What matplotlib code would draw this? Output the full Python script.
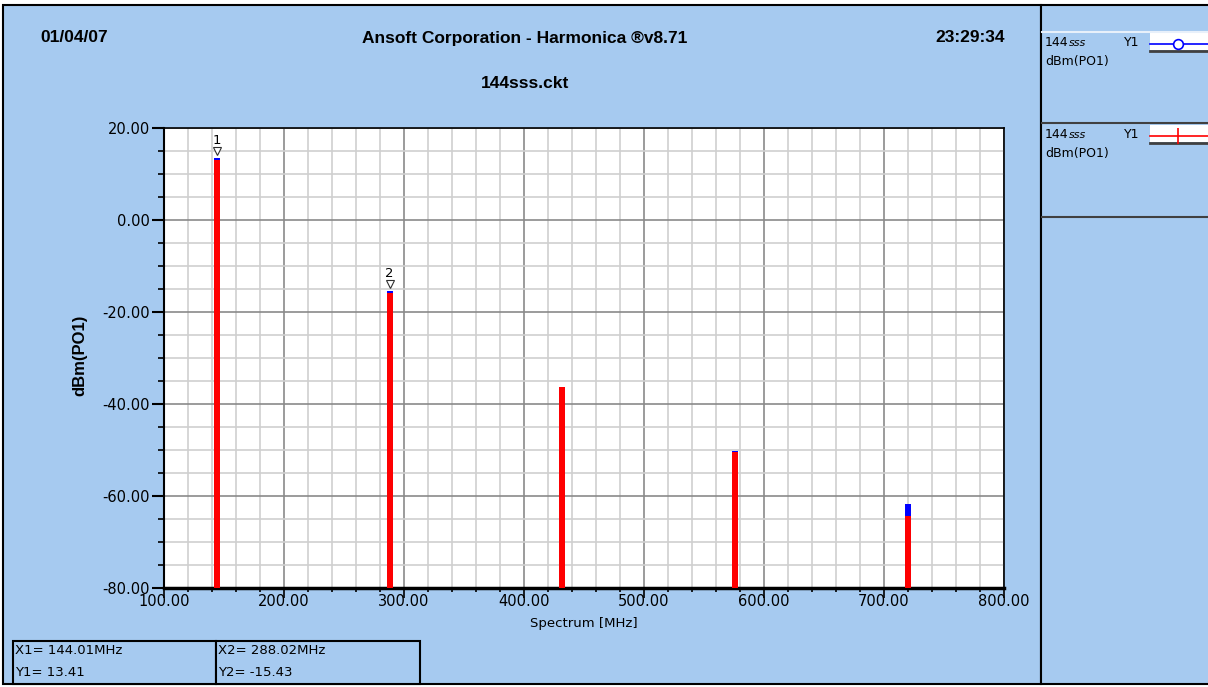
import matplotlib
matplotlib.use("Agg")
import matplotlib.pyplot as plt
from matplotlib.patches import Rectangle
from matplotlib.lines import Line2D

# ---- data ----
freq = [144.01, 288.02, 432.03, 576.04, 720.05]          # MHz
trace_blue = [13.41, -15.43, -36.2, -50.3, -61.7]          # dBm(PO1), Y1 (circle)
trace_red = [13.0, -15.9, -36.4, -50.5, -64.3]             # dBm(PO1), Y1 (cross)
markers = [("1", 144.01, 13.41), ("2", 288.02, -15.43)]
marker_text = [("X1= 144.01MHz", "Y1= 13.41"), ("X2= 288.02MHz", "Y2= -15.43")]
xticks = [100, 200, 300, 400, 500, 600, 700, 800]
yticks = [-80, -60, -40, -20, 0, 20]

# ---- styling ----
W, H = 1208, 687
bg = '#a6caf0'
sans = ['DejaVu Sans']
arial = ['Liberation Sans', 'DejaVu Sans']
plt.rcParams['font.family'] = sans

def fx(x):
    return x / W

def fy(y):
    return 1 - y / H

fig = plt.figure(figsize=(W / 100, H / 100), dpi=100)
fig.patch.set_facecolor('white')

def rect(x0, y0, x1, y1, fc=bg, ec='black', lw=1.5, z=-2):
    fig.patches.append(Rectangle((fx(x0), fy(y1)), fx(x1) - fx(x0), fy(y0) - fy(y1),
                                 transform=fig.transFigure, facecolor=fc, edgecolor=ec,
                                 linewidth=lw, zorder=z))

def hline(x0, x1, y, color='black', lw=1.0):
    fig.lines.append(Line2D([fx(x0), fx(x1)], [fy(y), fy(y)], transform=fig.transFigure,
                            color=color, linewidth=lw, zorder=2))

# main panel + right legend panel
rect(3, 5, 1041, 684)
rect(1041, 5, 1210, 684)
hline(1042, 1208, 32, color='#e8f0fa', lw=1.5)
hline(1042, 1208, 123, color='#404040', lw=1.5)
hline(1042, 1208, 217, color='#404040', lw=1.5)

# header texts
hdr = dict(fontsize=12.5, fontweight='bold', family=arial, va='center')
fig.text(fx(40), fy(38), "01/04/07", **hdr)
fig.text(fx(525), fy(38), "Ansoft Corporation - Harmonica \u00aev8.71", ha='center', **hdr)
fig.text(fx(1005), fy(38), "23:29:34", ha='right', **hdr)
fig.text(fx(525), fy(83), "144sss.ckt", ha='center', **hdr)

# ---- main axes ----
ax = fig.add_axes([fx(164), fy(588), fx(1004) - fx(164), fy(128) - fy(588)])
ax.set_zorder(1)
ax.set_facecolor('white')
ax.set_xlim(100, 800)
ax.set_ylim(-80, 20)

ax.set_xticks(xticks)
ax.set_xticklabels([f"{v:.2f}" for v in xticks])
ax.set_xticks(range(100, 801, 20), minor=True)
ax.set_yticks(yticks)
ax.set_yticklabels([f"{v:.2f}" for v in yticks])
ax.set_yticks(range(-80, 21, 5), minor=True)

ax.grid(which='minor', color='#cfcfcf', linewidth=1.2)
ax.grid(which='major', color='#8a8a8a', linewidth=1.2)
ax.set_axisbelow(True)

ax.tick_params(axis='y', which='major', direction='out', length=9, width=1.5, pad=1,
               labelsize=10.5)
ax.tick_params(axis='y', which='minor', direction='out', length=4, width=1.2)
ax.tick_params(axis='x', which='major', direction='out', length=7, width=1.2, pad=-3,
               labelsize=10.5)
ax.tick_params(axis='x', which='minor', direction='out', length=3, width=1.2)

for side in ['top', 'right']:
    ax.spines[side].set_linewidth(1.2)
ax.spines['left'].set_linewidth(1.5)
ax.spines['bottom'].set_linewidth(2.5)

ax.vlines(freq, -80, trace_blue, color='#0000ff', linewidth=4.3, zorder=3)
ax.vlines(freq, -80, trace_red, color='#ff0000', linewidth=4.3, zorder=4)

for lab, mx, my in markers:
    ax.plot([mx], [my + 1.6], marker='v', markersize=5.5, markerfacecolor='white',
            markeredgecolor='#303030', markeredgewidth=0.8, zorder=5)
    ax.text(mx, my + 2.4, lab, fontsize=9.5, ha='center', va='bottom', zorder=5)

ax.set_xlabel("Spectrum [MHz]", fontsize=9.5, labelpad=6)
fig.text(fx(80), fy(355), "dBm(PO1)", rotation=90, fontsize=12, fontweight='bold',
         family=arial, ha='center', va='center')

# ---- marker readout boxes ----
rect(13, 641, 216, 684, z=-1)
rect(216, 641, 420, 684, z=-1)
for i, (tx, ty) in enumerate(marker_text):
    x0 = 15 if i == 0 else 218
    fig.text(fx(x0), fy(651), tx, fontsize=9.5, va='center')
    fig.text(fx(x0), fy(673), ty, fontsize=9.5, va='center')

# ---- legend panel ----
legend_rows = [(44, '#0000ff', 'o'), (136, '#ff0000', '|')]
for yc, col, mk in legend_rows:
    rect(1150, yc - 11, 1209, yc + 6, fc='white', ec='none', lw=0, z=-1)
    hline(1150, 1208, yc + 7, color='#404040', lw=2)
    fig.lines.append(Line2D([fx(1150), fx(1208)], [fy(yc), fy(yc)], transform=fig.transFigure,
                            color=col, linewidth=1.2, zorder=2))
    if mk == 'o':
        fig.lines.append(Line2D([fx(1178)], [fy(yc)], transform=fig.transFigure,
                                marker='o', markersize=7, markerfacecolor='white',
                                markeredgecolor=col, markeredgewidth=1.2, linestyle='none',
                                zorder=3))
    else:
        fig.lines.append(Line2D([fx(1178)], [fy(yc)], transform=fig.transFigure,
                                marker='|', markersize=11, markeredgecolor=col,
                                markeredgewidth=1.2, linestyle='none', zorder=3))
    fig.text(fx(1045), fy(yc - 1), "144", fontsize=9, va='center')
    fig.text(fx(1069), fy(yc - 1), "sss", fontsize=8, style='italic', va='center')
    fig.text(fx(1124), fy(yc - 1), "Y1", fontsize=9, va='center')
    fig.text(fx(1045), fy(yc + 18), "dBm(PO1)", fontsize=9, va='center')

fig.savefig("out.png", dpi=100, facecolor=fig.get_facecolor())
